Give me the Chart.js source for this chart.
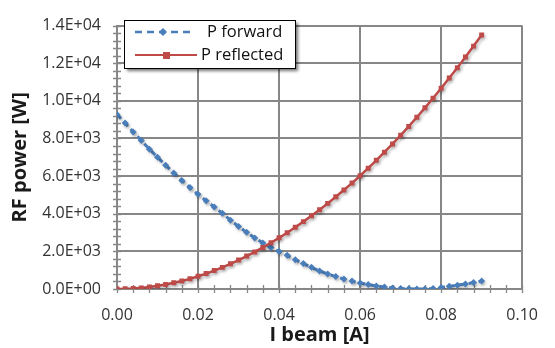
<!DOCTYPE html>
<html><head><meta charset="utf-8">
<script src="https://cdn.jsdelivr.net/npm/chart.js@4.4.1/dist/chart.umd.min.js"></script>
<style>html,body{margin:0;padding:0;background:#fff;}#wrap{width:555px;height:348px;}</style>
</head><body><div id="wrap"><canvas id="c" width="555" height="348"></canvas></div>
<script>
const beamCurrent = [0.000,0.002,0.004,0.006,0.008,0.010,0.012,0.014,0.016,0.018,
  0.020,0.022,0.024,0.026,0.028,0.030,0.032,0.034,0.036,0.038,
  0.040,0.042,0.044,0.046,0.048,0.050,0.052,0.054,0.056,0.058,
  0.060,0.062,0.064,0.066,0.068,0.070,0.072,0.074,0.076,0.078,
  0.080,0.082,0.084,0.086,0.088,0.090];
const pForward = [9280,8820,8350,7890,7430,7000,6580,6170,5770,5390,
  5030,4690,4360,4020,3660,3320,3010,2710,2450,2210,
  1990,1790,1560,1350,1150,960,800,660,530,420,
  320,235,160,105,55,25,10,0,5,30,
  75,140,200,270,340,420];
const pReflected = [0,10,30,60,110,170,240,330,430,540,
  680,820,980,1150,1340,1540,1750,1970,2210,2460,
  2720,2990,3280,3580,3890,4210,4550,4900,5260,5630,
  6020,6420,6840,7270,7710,8170,8640,9130,9630,10140,
  10670,11210,11760,12330,12910,13500];
const xTicks = [0,0.02,0.04,0.06,0.08,0.10];
const yTicks = [0,2000,4000,6000,8000,10000,12000,14000];
const seriesNames = ['P forward','P reflected'];
const axisTitles = ['I beam [A]','RF power [W]'];

const FONT = '"Open Sans", Lato, sans-serif';
const BLUE = '#4A7EBB', RED = '#BE4B48', GRID = '#878787';

function sci(v){
  if (v === 0) return '0.0E+00';
  const e = Math.floor(Math.log10(Math.abs(v)) + 1e-9);
  const m = v / Math.pow(10, e);
  return m.toFixed(1) + 'E' + (e < 0 ? '-' : '+') + String(Math.abs(e)).padStart(2,'0');
}

const minorTicks = {
  id: 'minorTicks',
  beforeDatasetsDraw(chart){
    const {ctx, chartArea:a, scales:{x, y}} = chart;
    ctx.save();
    ctx.strokeStyle = GRID; ctx.lineWidth = 1.3;
    ctx.beginPath();
    for (let i = 0; i <= 25; i++){
      const px = Math.round(x.getPixelForValue(i*0.004)) + 0.5;
      ctx.moveTo(px, a.bottom - 4); ctx.lineTo(px, a.bottom + 4);
    }
    for (let i = 0; i <= 35; i++){
      const py = Math.round(y.getPixelForValue(i*400)) + 0.5;
      ctx.moveTo(a.left - 4, py); ctx.lineTo(a.left + 4, py);
    }
    ctx.stroke();
    ctx.restore();
  }
};

const lineShadow = {
  id: 'lineShadow',
  beforeDatasetsDraw(chart){
    const ctx = chart.ctx;
    ctx.save();
    ctx.shadowColor = 'rgba(0,0,0,0.22)';
    ctx.shadowOffsetX = 1.5; ctx.shadowOffsetY = 2; ctx.shadowBlur = 3;
  },
  afterDatasetsDraw(chart){ chart.ctx.restore(); }
};

const boxLegend = {
  id: 'boxLegend',
  afterDraw(chart){
    const ctx = chart.ctx;
    const bx = 124, by = 20, bw = 171, bh = 48;
    ctx.save();
    ctx.shadowColor = 'rgba(0,0,0,0.55)';
    ctx.shadowOffsetX = 3; ctx.shadowOffsetY = 3; ctx.shadowBlur = 3;
    ctx.fillStyle = '#fff';
    ctx.fillRect(bx, by, bw, bh);
    ctx.shadowColor = 'transparent';
    ctx.strokeStyle = '#000'; ctx.lineWidth = 1;
    ctx.strokeRect(bx + 0.5, by + 0.5, bw, bh);
    // entry 1
    ctx.strokeStyle = BLUE; ctx.lineWidth = 2.5; ctx.setLineDash([7,5]);
    ctx.beginPath(); ctx.moveTo(135, 32); ctx.lineTo(192, 32); ctx.stroke();
    ctx.setLineDash([]);
    ctx.fillStyle = BLUE;
    ctx.beginPath(); ctx.moveTo(163, 28); ctx.lineTo(167, 32); ctx.lineTo(163, 36); ctx.lineTo(159, 32); ctx.closePath(); ctx.fill();
    // entry 2
    ctx.strokeStyle = RED; ctx.lineWidth = 2;
    ctx.beginPath(); ctx.moveTo(135, 55); ctx.lineTo(197, 55); ctx.stroke();
    ctx.fillStyle = RED; ctx.fillRect(163, 52, 7, 7);
    ctx.fillStyle = '#111';
    ctx.font = '16.5px ' + FONT;
    ctx.textBaseline = 'middle';
    ctx.fillText(seriesNames[0], 207, 32);
    ctx.fillText(seriesNames[1], 201, 55);
    ctx.restore();
  }
};

new Chart(document.getElementById('c'), {
  type: 'line',
  data: {
    datasets: [
      { label: seriesNames[0], data: beamCurrent.map((x,i)=>({x, y:pForward[i]})),
        borderColor: BLUE, backgroundColor: BLUE, borderWidth: 3, borderDash: [6,4],
        pointStyle: 'rectRot', pointRadius: 3.5, pointBorderWidth: 0, order: 1, tension: 0 },
      { label: seriesNames[1], data: beamCurrent.map((x,i)=>({x, y:pReflected[i]})),
        borderColor: RED, backgroundColor: RED, borderWidth: 2.5,
        pointStyle: 'rect', pointRadius: 3.5, pointBorderWidth: 0, order: 0, tension: 0 }
    ]
  },
  options: {
    responsive: false, animation: false, devicePixelRatio: 1,
    layout: { padding: { top: 14, right: 19, left: 0, bottom: 0 } },
    plugins: { legend: { display: false }, tooltip: { enabled: false } },
    scales: {
      x: {
        type: 'linear', min: 0, max: 0.1,
        afterBuildTicks: s => { s.ticks = xTicks.map(v => ({value: v})); },
        afterFit: s => { s.height = 59; },
        ticks: { callback: v => v.toFixed(2), color: '#333', font: { family: FONT, size: 16 }, padding: 17, maxRotation: 0 },
        grid: { color: GRID, lineWidth: 2, drawTicks: false },
        border: { color: GRID, width: 2 },
        title: { display: true, text: axisTitles[0], color: '#1a1a1a', font: { family: FONT, size: 20, weight: 'bold' }, padding: { top: 0, bottom: 1 } }
      },
      y: {
        min: 0, max: 14000,
        afterBuildTicks: s => { s.ticks = yTicks.map(v => ({value: v})); },
        afterFit: s => { s.width = 117; },
        ticks: { callback: v => sci(v), color: '#333', font: { family: FONT, size: 16 }, padding: 16 },
        grid: { color: GRID, lineWidth: 2, drawTicks: false },
        border: { color: GRID, width: 2 },
        title: { display: true, text: axisTitles[1], color: '#1a1a1a', font: { family: FONT, size: 20, weight: 'bold' }, padding: { top: 8, bottom: 0 } }
      }
    }
  },
  plugins: [minorTicks, lineShadow, boxLegend]
});
</script></body></html>
